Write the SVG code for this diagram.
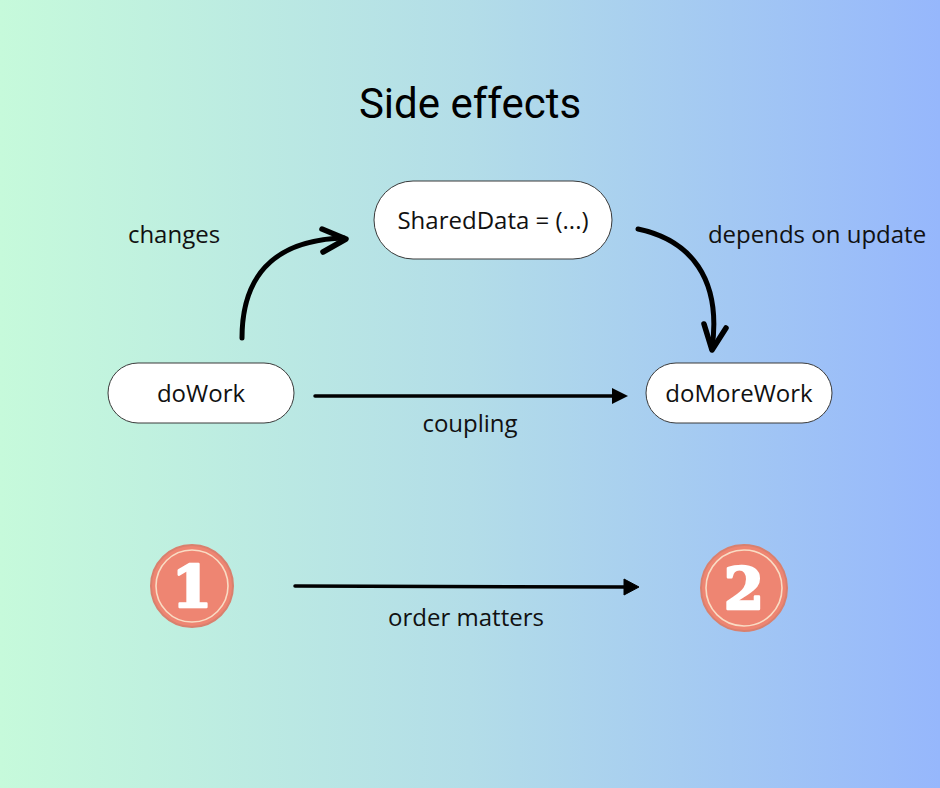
<svg xmlns="http://www.w3.org/2000/svg" width="940" height="788" viewBox="0 0 940 788">
<style>
.node rect{fill:#fff;stroke:#3a3a3a;stroke-width:1}
.lbl{font-family:"Open Sans","Noto Sans",sans-serif;font-size:24px;fill:#111;text-anchor:middle}
.title{font-family:Roboto,"Liberation Sans",sans-serif;font-size:42px;fill:#000;text-anchor:middle}
.conn{fill:none;stroke:#000;stroke-linecap:round;stroke-linejoin:round}
.num{font-family:"DejaVu Serif",serif;font-weight:bold;font-size:58px;fill:#fff;stroke:#fff;stroke-width:2.5;stroke-linejoin:round;text-anchor:middle}
.badge circle.o{fill:#ee8572;stroke:#d9806e;stroke-width:2}
.badge circle.i{fill:none;stroke:#f9dcc4;stroke-width:1.6}
</style>
<defs>
<linearGradient id="bg" x1="0" y1="0" x2="1" y2="0">
<stop offset="0" stop-color="#c6fadb"/>
<stop offset="0.5" stop-color="#b3dde8"/>
<stop offset="1" stop-color="#96b7fc"/>
</linearGradient>
</defs>
<rect width="940" height="788" fill="url(#bg)"/>
<text class="title" x="470" y="118">Side effects</text>

<g id="node-shareddata" class="node">
<rect x="374" y="181" width="238" height="78" rx="39"/>
<text class="lbl" x="493" y="229">SharedData = (...)</text>
</g>
<g id="node-dowork" class="node">
<rect x="108" y="363" width="186" height="60" rx="30"/>
<text class="lbl" x="201" y="402">doWork</text>
</g>
<g id="node-domorework" class="node">
<rect x="646" y="363" width="186" height="60" rx="30"/>
<text class="lbl" x="739" y="402">doMoreWork</text>
</g>

<g id="connectors">
<path class="conn" d="M242,338 C242,280 270,240 344,238" stroke-width="5"/>
<path class="conn" d="M322,229 L346,239 L323,252" stroke-width="5.5"/>
<path class="conn" d="M638,229 C690,240 722,278 712,349" stroke-width="5"/>
<path class="conn" d="M704,324 L712,350 L726,328" stroke-width="5.5"/>
<path class="conn" d="M315,396 L614,396" stroke-width="3.5"/>
<path d="M612,388 L628,396 L612,404 Z" fill="#000"/>
<path class="conn" d="M295,586 L626,587" stroke-width="3.5"/>
<path d="M624,579 L639,587 L624,595 Z" fill="#000" stroke="#000" stroke-linejoin="round" stroke-width="1"/>
</g>

<text class="lbl" x="174" y="243">changes</text>
<text class="lbl" x="817" y="243">depends on update</text>
<text class="lbl" x="470" y="432">coupling</text>
<text class="lbl" x="466" y="626">order matters</text>

<g id="badge-1" class="badge">
<circle class="o" cx="192" cy="586" r="41"/>
<circle class="i" cx="192" cy="586" r="36"/>
<text class="num" x="192" y="607">1</text>
</g>
<g id="badge-2" class="badge">
<circle class="o" cx="744" cy="588" r="43"/>
<circle class="i" cx="744" cy="588" r="38"/>
<text class="num" x="744" y="609">2</text>
</g>
</svg>
